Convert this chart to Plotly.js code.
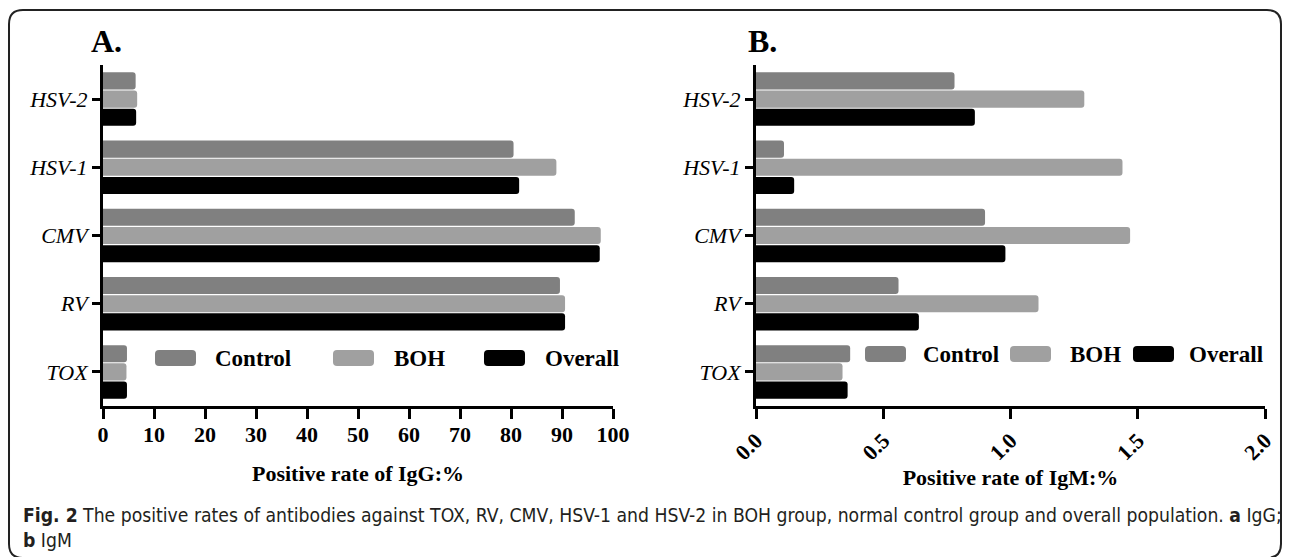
<!DOCTYPE html>
<html>
<head>
<meta charset="utf-8">
<script src="https://cdn.plot.ly/plotly-3.0.1.min.js"></script>
<style>
html,body{margin:0;padding:0;background:#fff;}
#chart{width:1290px;height:557px;}
</style>
</head>
<body>
<div id="chart"></div>
<script>
// ---- data ----
const categories = ['TOX', 'RV', 'CMV', 'HSV-1', 'HSV-2'];
const seriesNames = ['Control', 'BOH', 'Overall'];
const seriesColors = ['#808080', '#a0a0a0', '#000000'];
const igG_control = [4.7, 89.6, 92.5, 80.5, 6.4];
const igG_boh     = [4.6, 90.6, 97.6, 88.9, 6.7];
const igG_overall = [4.7, 90.6, 97.4, 81.6, 6.5];
const igM_control = [0.37, 0.56, 0.90, 0.11, 0.78];
const igM_boh     = [0.34, 1.11, 1.47, 1.44, 1.29];
const igM_overall = [0.36, 0.64, 0.98, 0.15, 0.86];
const igGTicks = [0, 10, 20, 30, 40, 50, 60, 70, 80, 90, 100];
const igMTicks = [0, 0.5, 1.0, 1.5, 2.0];
const panelTitles = ['A.', 'B.'];
const xTitles = ['Positive rate of IgG:%', 'Positive rate of IgM:%'];
const captionLine1 = '<b>Fig. 2</b> The positive rates of antibodies against TOX, RV, CMV, HSV-1 and HSV-2 in BOH group, normal control group and overall population. <b>a</b> IgG;';
const captionLine2 = '<b>b</b> IgM';

// ---- helpers ----
const W = 1290, H = 557;
const px = v => v / W;
const py = v => 1 - v / H;
const SERIF = 'Liberation Serif';
const serifSpan = (t, extra) => `<span style="font-family:'Liberation Serif',serif;${extra || ''}">${t}</span>`;

const igG = [igG_control, igG_boh, igG_overall];
const igM = [igM_control, igM_boh, igM_overall];

const traces = [];
// order so that Control is on top of each group (first trace = bottom)
[2, 1, 0].forEach(i => {
  traces.push({
    type: 'bar', orientation: 'h', name: seriesNames[i],
    y: categories, x: igG[i], xaxis: 'x', yaxis: 'y',
    marker: {color: seriesColors[i], cornerradius: 3, line: {width: 0}},
    showlegend: false, hoverinfo: 'x+y'
  });
});
[2, 1, 0].forEach(i => {
  traces.push({
    type: 'bar', orientation: 'h', name: seriesNames[i],
    y: categories, x: igM[i], xaxis: 'x2', yaxis: 'y2',
    marker: {color: seriesColors[i], cornerradius: 3, line: {width: 0}},
    showlegend: false, hoverinfo: 'x+y'
  });
});

const yDomain = [py(406), py(65)];
function xAxisBase() {
  return {
    showline: true, linewidth: 3, linecolor: '#000', mirror: false,
    ticks: 'outside', ticklen: 10, tickwidth: 3, tickcolor: '#000',
    showgrid: false, zeroline: false, fixedrange: true,
    tickfont: {family: 'Liberation Serif, serif', size: 22, color: '#000', weight: 'bold'}
  };
}
function yAxisBase() {
  return {
    type: 'category', categoryorder: 'array', categoryarray: categories.slice(),
    range: [-0.5, categories.length - 0.5], domain: yDomain.slice(),
    tickvals: categories.slice(),
    ticktext: categories.map(c => serifSpan(c)),
    showline: true, linewidth: 3, linecolor: '#000',
    ticks: 'outside', ticklen: 8, tickwidth: 3, tickcolor: '#000',
    showgrid: false, zeroline: false, fixedrange: true,
    tickfont: {family: 'Liberation Serif, serif', size: 22, color: '#000', style: 'italic'}
  };
}

// ---- custom legends (wide rounded swatches) ----
const shapes = [];
const annotations = [];
function roundRect(x0, y0, x1, y1, r, color, line) {
  const X = v => px(v).toFixed(5), Y = v => py(v).toFixed(5);
  const p = `M${X(x0 + r)},${Y(y0)} L${X(x1 - r)},${Y(y0)} Q${X(x1)},${Y(y0)} ${X(x1)},${Y(y0 + r)} ` +
            `L${X(x1)},${Y(y1 - r)} Q${X(x1)},${Y(y1)} ${X(x1 - r)},${Y(y1)} L${X(x0 + r)},${Y(y1)} ` +
            `Q${X(x0)},${Y(y1)} ${X(x0)},${Y(y1 - r)} L${X(x0)},${Y(y0 + r)} Q${X(x0)},${Y(y0)} ${X(x0 + r)},${Y(y0)} Z`;
  return {type: 'path', xref: 'paper', yref: 'paper', path: p,
          fillcolor: color || 'rgba(0,0,0,0)',
          line: line || {width: 0}, layer: 'above'};
}
const legendLayouts = [
  {yc: 358, items: [[155, 213], [333, 392], [484, 543]]},
  {yc: 354, items: [[865, 921], [1010, 1068], [1133, 1187]]}
];
legendLayouts.forEach(lg => {
  lg.items.forEach((it, i) => {
    shapes.push(roundRect(it[0], lg.yc - 8, it[0] + 41, lg.yc + 8, 4, seriesColors[i]));
    annotations.push({
      xref: 'paper', yref: 'paper', x: px(it[1]), y: py(lg.yc),
      xanchor: 'left', yanchor: 'middle', showarrow: false,
      text: seriesNames[i],
      font: {family: SERIF, size: 23, color: '#000', weight: 'bold'}
    });
  });
});

// outer rounded frame
shapes.push(roundRect(9, 10, 1281, 558, 14, null, {width: 2, color: '#222'}));

// panel letters
[[89, panelTitles[0]], [746, panelTitles[1]]].forEach(t => {
  annotations.push({
    xref: 'paper', yref: 'paper', x: px(t[0]), y: py(41),
    xanchor: 'left', yanchor: 'middle', showarrow: false, text: t[1],
    font: {family: SERIF, size: 32, color: '#000', weight: 'bold'}
  });
});
// caption
[[captionLine1, 515], [captionLine2, 540]].forEach(c => {
  annotations.push({
    xref: 'paper', yref: 'paper', x: px(21), y: py(c[1]),
    xanchor: 'left', yanchor: 'middle', showarrow: false, align: 'left',
    text: c[0],
    font: {family: 'DejaVu Sans Condensed, sans-serif', size: 19.2, color: '#231f20'}
  });
});

const layout = {
  width: W, height: H,
  margin: {l: 0, r: 0, t: 0, b: 0},
  font: {family: SERIF, color: '#000'},
  paper_bgcolor: '#fff', plot_bgcolor: '#fff',
  barmode: 'group', bargap: 0.2, bargroupgap: 0.06,
  showlegend: false,
  xaxis: Object.assign(xAxisBase(), {
    domain: [px(103), px(613)], anchor: 'y', range: [0, 100],
    tickvals: igGTicks, ticktext: igGTicks.map(v => serifSpan(String(v))),
    ticklabelstandoff: -3,
    title: {text: xTitles[0], standoff: 20,
            font: {family: SERIF, size: 22, color: '#000', weight: 'bold'}}
  }),
  yaxis: Object.assign(yAxisBase(), {anchor: 'x'}),
  xaxis2: Object.assign(xAxisBase(), {
    domain: [px(756), px(1265)], anchor: 'y2', range: [0, 2],
    tickvals: igMTicks, ticktext: igMTicks.map(v => serifSpan(v.toFixed(1))), tickangle: -45,
    title: {text: xTitles[1], standoff: 3,
            font: {family: SERIF, size: 22, color: '#000', weight: 'bold'}}
  }),
  yaxis2: Object.assign(yAxisBase(), {anchor: 'x2'}),
  shapes: shapes,
  annotations: annotations
};

Plotly.newPlot('chart', traces, layout, {displayModeBar: false, staticPlot: true});
</script>
</body>
</html>
